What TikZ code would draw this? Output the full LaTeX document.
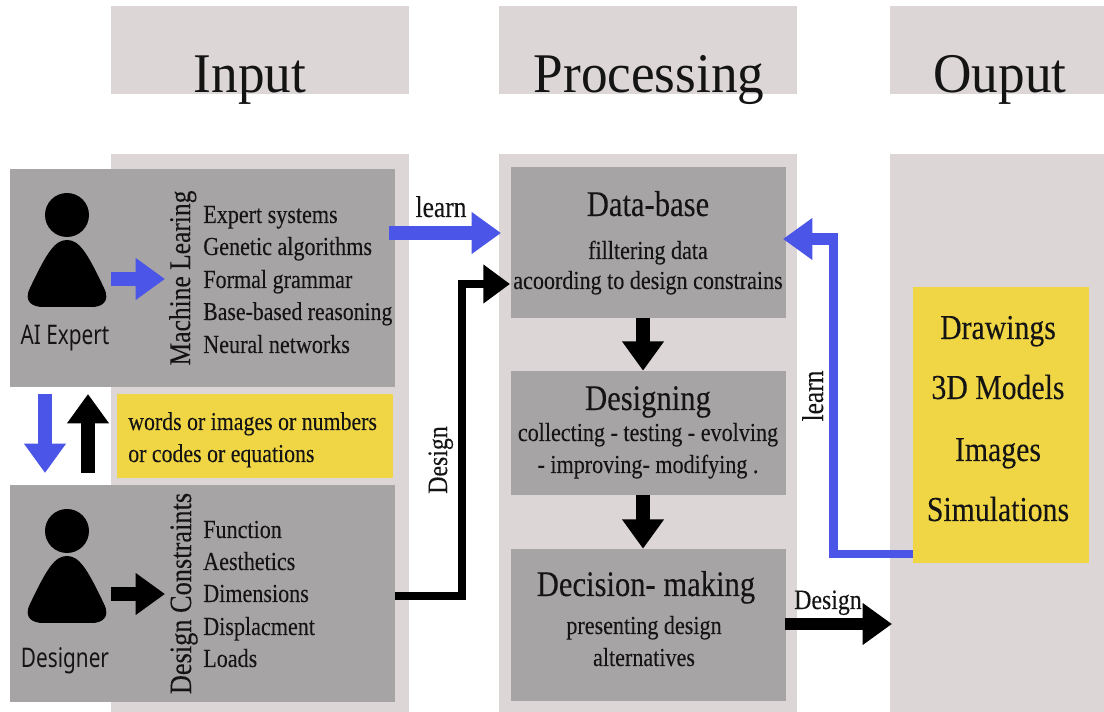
\documentclass[tikz,border=0pt]{standalone}
\usepackage{fontspec}
\usetikzlibrary{arrows.meta}
\setmainfont{Liberation Serif}
\newfontfamily\serifc[FakeStretch=0.85,FakeBold=0.12]{Liberation Serif}
\newfontfamily\serift[FakeStretch=0.95]{Liberation Serif}
\newfontfamily\sansc[FakeStretch=0.77]{Noto Sans}
\definecolor{colbg}{HTML}{DDD6D6}
\definecolor{boxgray}{HTML}{A7A4A5}
\definecolor{ybox}{HTML}{F0D545}
\definecolor{blueA}{HTML}{4B55E8}
\newcommand{\fp}[1]{\serifc\fontsize{\dimexpr#1pt*3/4\relax}{\dimexpr#1pt*3/4\relax}\selectfont}
\newcommand{\ft}[1]{\serift\fontsize{\dimexpr#1pt*3/4\relax}{\dimexpr#1pt*3/4\relax}\selectfont}
\newcommand{\fs}[1]{\sansc\fontsize{\dimexpr#1pt*3/4\relax}{\dimexpr#1pt*3/4\relax}\selectfont}
% \pxbox{name}{style}{x0}{y0}{x1}{y1}
\newcommand{\pxbox}[6]{%
  \pgfmathsetmacro\bw{(#5-#3)*0.75}\pgfmathsetmacro\bh{(#6-#4)*0.75}%
  \node[#2,minimum width=\bw pt,minimum height=\bh pt] (#1) at ({(#3+#5)/2},{(#4+#6)/2}) {};}
\newcommand{\person}[3]{% name, x offset, y offset
  \node[headdot] (#1head) at (67+#2,215+#3) {};
  \fill[black] (67+#2,240+#3) .. controls (79+#2,240+#3) and (87+#2,252+#3) .. (104+#2,288+#3)
    .. controls (111+#2,302+#3) and (101+#2,307+#3) .. (92+#2,307+#3)
    -- (43+#2,307+#3) .. controls (33+#2,307+#3) and (23+#2,302+#3) .. (30+#2,288+#3)
    .. controls (47+#2,252+#3) and (55+#2,240+#3) .. (67+#2,240+#3) -- cycle;}
\tikzset{
  colband/.style={fill=colbg,draw=none,inner sep=0pt},
  graybox/.style={fill=boxgray,draw=none,inner sep=0pt},
  yellowbox/.style={fill=ybox,draw=none,inner sep=0pt},
  headdot/.style={circle,fill=black,inner sep=0pt,minimum size=33pt},
  lbl/.style={inner sep=0pt,anchor=base,text=black!92},
  lbll/.style={inner sep=0pt,anchor=base west,text=black!92},
  lblv/.style={inner sep=0pt,anchor=base,rotate=90,text=black!92},
  fatblue/.style={draw=blueA,line width=10.5pt,-{Triangle[length=22pt,width=30pt,fill=blueA]}},
  fatblack/.style={draw=black,line width=10pt,-{Triangle[length=22pt,width=30pt,fill=black]}},
  elbowblack/.style={draw=black,line width=6.5pt,line join=miter,-{Triangle[length=20pt,width=28pt,fill=black]}},
  elbowblue/.style={draw=blueA,line width=6.5pt,line join=miter},
}
\begin{document}
\begin{tikzpicture}[x=0.75pt,y=-0.75pt]
\useasboundingbox (0,0) rectangle (1104,712);
\fill[white] (0,0) rectangle (1104,712);
% column bands
\pxbox{hin}{colband}{111}{6}{409}{94}
\pxbox{hpr}{colband}{499}{6}{797}{94}
\pxbox{hou}{colband}{890}{6}{1104}{94}
\pxbox{cin}{colband}{111}{154}{409}{712}
\pxbox{cpr}{colband}{499}{154}{797}{712}
\pxbox{cou}{colband}{890}{154}{1104}{712}
\node[lbl] (tin) at (250,93) {\ft{56}Input};
\node[lbl] (tpr) at (649,93) {\ft{56}Processing};
\node[lbl] (tou) at (1000,93) {\ft{56}Ouput};
% boxes
\pxbox{ai}{graybox}{10}{169}{395}{387}
\pxbox{words}{yellowbox}{117}{394}{393}{478}
\pxbox{des}{graybox}{10}{485}{395}{702}
\pxbox{db}{graybox}{511}{167}{786}{318}
\pxbox{dsg}{graybox}{511}{371}{786}{495}
\pxbox{dec}{graybox}{511}{549}{786}{701}
\pxbox{out}{yellowbox}{913}{287}{1089}{563}
% persons
\person{p1}{0}{0}
\person{p2}{0}{316}
\node[lbl] (aiexp) at (65,345) {\fs{27}AI Expert};
\node[lbl] (desn) at (65,668) {\fs{27}Designer};
% vertical headings
\node[lblv] (ml) at (190,278) {\fp{30}Machine Learing};
\node[lblv] (dc) at (191,593.5) {\fp{31}Design Constraints};
% lists
\node[lbll] (l1) at (203,223) {\fp{26}Expert systems};
\node[lbll] (l2) at (203,255) {\fp{26}Genetic algorithms};
\node[lbll] (l3) at (203,288) {\fp{26}Formal grammar};
\node[lbll] (l4) at (203,320) {\fp{25.6}Base-based reasoning};
\node[lbll] (l5) at (203,353) {\fp{26}Neural networks};
\node[lbll] (c1) at (203,538) {\fp{26}Function};
\node[lbll] (c2) at (203,570) {\fp{26}Aesthetics};
\node[lbll] (c3) at (203,602) {\fp{26}Dimensions};
\node[lbll] (c4) at (203,635) {\fp{26}Displacment};
\node[lbll] (c5) at (203,667) {\fp{26}Loads};
\node[lbll] (w1) at (128,430) {\fp{25.7}words or images or numbers};
\node[lbll] (w2) at (128,462) {\fp{25.7}or codes or equations};
% processing text
\node[lbl] (t1) at (648,216) {\fp{36}Data-base};
\node[lbl] (t2) at (648,259) {\fp{26}filltering data};
\node[lbl] (t3) at (648,289) {\fp{26}acoording to design constrains};
\node[lbl] (t4) at (648,410) {\fp{36}Designing};
\node[lbl] (t5) at (648,441) {\fp{26}collecting - testing - evolving};
\node[lbl] (t6) at (648,473) {\fp{26}- improving- modifying .};
\node[lbl] (t7) at (646,596) {\fp{36}Decision- making};
\node[lbl] (t8) at (644,634) {\fp{26}presenting design};
\node[lbl] (t9) at (644,666) {\fp{26}alternatives};
% output text
\node[lbl] (o1) at (998,339) {\fp{35}Drawings};
\node[lbl] (o2) at (998,399) {\fp{35}3D Models};
\node[lbl] (o3) at (998,461) {\fp{35}Images};
\node[lbl] (o4) at (998,521) {\fp{35}Simulations};
% labels on arrows
\node[lbl] (la1) at (441,217) {\fp{30}learn};
\node[lblv] (la2) at (823,396) {\fp{30}learn};
\node[lblv] (de1) at (447,460) {\fp{28}Design};
\node[lbl] (de2) at (828,609) {\fp{28}Design};
% short arrows
\coordinate (pa1) at (111,279); \coordinate (pa2) at (165,279);
\draw[fatblue] (pa1) -- (pa2);
\coordinate (pb1) at (111,594); \coordinate (pb2) at (165,594);
\draw[fatblack] (pb1) -- (pb2);
\coordinate (va1) at (45,394); \coordinate (va2) at (45,473);
\draw[fatblue] (va1) -- (va2);
\coordinate (vb1) at (88,473); \coordinate (vb2) at (88,394);
\draw[fatblack] (vb1) -- (vb2);
% learn arrow to database
\coordinate (ln1) at (389,233); \coordinate (ln2) at (501,233);
\draw[fatblue] (ln1) -- (ln2);
% design elbow
\coordinate (el1) at (395,596); \coordinate (el2) at (462,596);
\coordinate (el3) at (462,284); \coordinate (el4) at (510,284);
\draw[elbowblack] (el1) -- (el2) -- (el3) -- (el4);
% process arrows
\draw[fatblack] ([xshift=-4.1pt]db.south) -- ([xshift=-4.1pt]dsg.north);
\draw[fatblack] ([xshift=-4.1pt]dsg.south) -- ([xshift=-4.1pt]dec.north);
% feedback
\coordinate (fb1) at (913,554); \coordinate (fb2) at (833.5,554);
\coordinate (fb3) at (833.5,235); \coordinate (fb4) at (838,239); \coordinate (fb5) at (783,239);
\draw[elbowblue] (fb1) -- (fb2) -- (fb3);
\draw[fatblue,line width=9.5pt] (fb4) -- (fb5);
% design out
\coordinate (do1) at (785,624); \coordinate (do2) at (892,624);
\draw[fatblack,line width=9.5pt] (do1) -- (do2);
\end{tikzpicture}
\end{document}
